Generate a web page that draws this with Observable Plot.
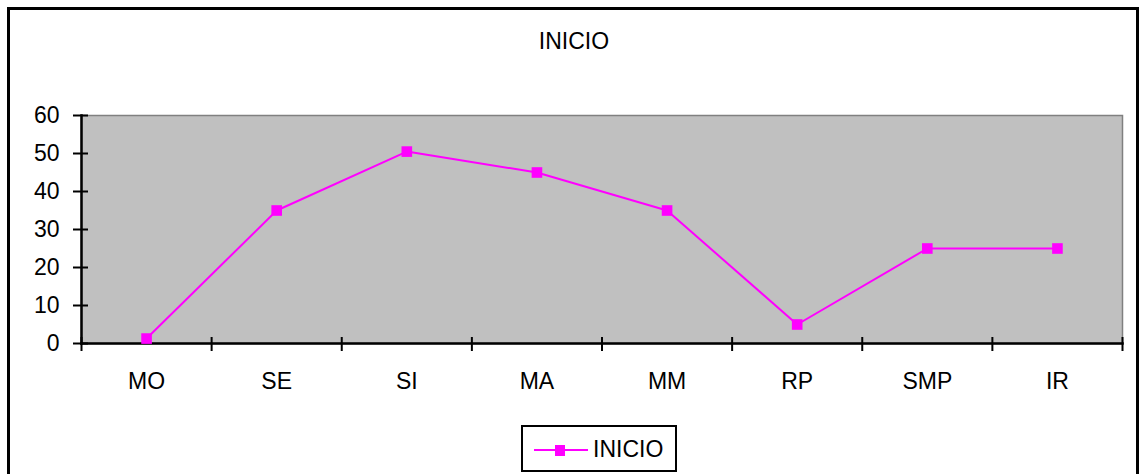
<!DOCTYPE html>
<html>
<head>
<meta charset="utf-8">
<script src="https://cdn.jsdelivr.net/npm/d3@7"></script>
<script src="https://cdn.jsdelivr.net/npm/@observablehq/plot@0.6"></script>
<style>
  html, body { margin: 0; padding: 0; background: #fff; overflow: hidden; }
  #wrap { position: relative; width: 1139px; height: 474px; font-family: "Liberation Sans", Arial, sans-serif; }
  #chart { position: absolute; left: 0; top: 0; }
  #title { position: absolute; left: 574px; top: 30px; transform: translateX(-50%); font-size: 23px; line-height: 23px; color: #000; white-space: nowrap; }
  #legend { position: absolute; left: 521px; top: 425px; width: 156px; height: 47px; box-sizing: border-box; border: 2px solid #000; background: #fff; }
  #legend svg { position: absolute; left: 10px; top: 12px; }
  #legend span { position: absolute; left: 70px; top: 11px; font-size: 23px; line-height: 23px; }
  #border { position: absolute; left: 7px; top: 7px; width: 1132px; height: 520px; box-sizing: border-box; border: 3px solid #000; pointer-events: none; }
</style>
</head>
<body>
<div id="wrap">
  <div id="chart"></div>
  <div id="title"></div>
  <div id="legend"><svg width="56" height="22"><line x1="1" x2="55" y1="11" y2="11" stroke="#FF00FF" stroke-width="2"></line><rect x="22" y="6" width="10" height="11" fill="#FF00FF"></rect></svg><span></span></div>
  <div id="border"></div>
</div>
<script>
// Series: starting scores per category
const seriesName = "INICIO";
const categories = ["MO", "SE", "SI", "MA", "MM", "RP", "SMP", "IR"];
const values = [1.3, 35, 50.5, 45, 35, 5, 25, 25];
const yTicks = [0, 10, 20, 30, 40, 50, 60];

const data = categories.map((c, i) => ({category: c, index: i, value: values[i]}));
const slotEdges = d3.range(categories.length + 1);           // category boundaries
const slotCenters = categories.map((c, i) => i + 0.5);       // category centers

document.getElementById("title").textContent = seriesName;
document.querySelector("#legend span").textContent = seriesName;

const chart = Plot.plot({
  width: 1139,
  height: 474,
  marginLeft: 81,
  marginRight: 17,
  marginTop: 115,
  marginBottom: 131,
  style: {fontFamily: "Liberation Sans, Arial, sans-serif", fontSize: "23px", color: "#000", background: "transparent"},
  x: {domain: [0, categories.length]},
  y: {domain: [0, 60]},
  marks: [
    Plot.frame({fill: "#C0C0C0", stroke: "#808080", strokeWidth: 1.5}),
    // y axis: crossing tick marks, then labels
    Plot.axisY({ticks: yTicks, tickSize: 15, dx: 7, tickFormat: () => "", stroke: "#000", strokeWidth: 2, label: null}),
    Plot.axisY({ticks: yTicks, tickSize: 0, tickPadding: 22, fontSize: 23, label: null}),
    // x axis: crossing ticks at category boundaries, labels at centers
    Plot.axisX({ticks: slotEdges, tickSize: 14, dy: -6, tickFormat: () => "", stroke: "#000", strokeWidth: 2, label: null}),
    Plot.axisX({ticks: slotCenters, tickSize: 0, tickPadding: 29, fontSize: 23, tickFormat: t => categories[Math.floor(t)], label: null}),
    Plot.frame({anchor: "left", stroke: "#000", strokeWidth: 2.5}),
    Plot.frame({anchor: "bottom", stroke: "#000", strokeWidth: 2.5}),
    Plot.line(data, {x: d => d.index + 0.5, y: "value", stroke: "#FF00FF", strokeWidth: 2}),
    Plot.dot(data, {x: d => d.index + 0.5, y: "value", symbol: "square", r: 6, fill: "#FF00FF", stroke: "none"})
  ]
});
document.getElementById("chart").appendChild(chart);
</script>
</body>
</html>
